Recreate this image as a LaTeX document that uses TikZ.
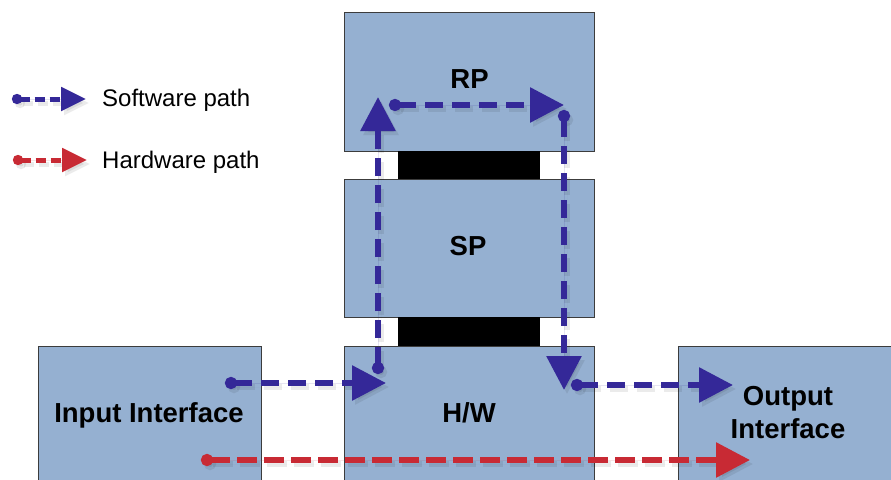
\documentclass[tikz,border=0pt]{standalone}
\usepackage{fontspec}
\setmainfont{Liberation Sans}
\usetikzlibrary{arrows.meta}
\definecolor{boxfill}{RGB}{149,176,209}
\definecolor{boxline}{RGB}{60,60,60}
\definecolor{swblue}{RGB}{52,40,152}
\definecolor{hwred}{RGB}{200,42,52}
\tikzset{
  blk/.style={draw=boxline, line width=1.3pt, fill=boxfill, anchor=north west, inner sep=0pt},
  bar/.style={fill=black, anchor=north west, inner sep=0pt, draw=none},
  lbl/.style={anchor=base, inner sep=0pt, font=\fontsize{27.5}{33}\selectfont\bfseries},
  leg/.style={anchor=base west, inner sep=0pt, font=\fontsize{24}{28}\selectfont},
  pathbig/.style={line width=6pt, dash pattern=on 18pt off 9pt,
    arrows={Circle[length=12pt]-Triangle[length=34pt,width=34pt]}},
  pathred/.style={pathbig, dash pattern=on 20pt off 7pt},
  pathsmall/.style={line width=5pt, dash pattern=on 10pt off 5pt,
    arrows={Circle[length=10pt]-Triangle[length=25pt,width=23pt]}},
  shade/.style={draw=black, fill=black, opacity=0.08},
}
\begin{document}
\begin{tikzpicture}[x=1pt,y=-1pt]
\useasboundingbox (0,0) rectangle (891,479);
\clip (0,0) rectangle (891,479);
% boxes
\node[blk, minimum width=250pt, minimum height=139pt] (rp) at (344,12) {};
\node[blk, minimum width=250pt, minimum height=138pt] (sp) at (344,179) {};
\node[blk, minimum width=250pt, minimum height=160pt] (hw) at (344,346) {};
\node[blk, minimum width=223pt, minimum height=160pt] (in) at (38,346) {};
\node[blk, minimum width=230pt, minimum height=160pt] (out) at (678,346) {};
\node[bar, minimum width=142pt, minimum height=28pt] (bar1) at (398,151) {};
\node[bar, minimum width=142pt, minimum height=29pt] (bar2) at (398,317) {};
% labels
\node[lbl] (rpL) at (469.5,88) {RP};
\node[lbl] (spL) at (468,255) {SP};
\node[lbl] (hwL) at (469,422) {H/W};
\node[lbl] (inL) at (149,422) {Input Interface};
\node[lbl] (outL1) at (788,405) {Output};
\node[lbl] (outL2) at (788,438) {Interface};
% legend
\node[leg] (legSW) at (102,106) {Software path};
\node[leg] (legHW) at (102,168) {Hardware path};
% coordinates
\coordinate (l1s) at (12,99);   \coordinate (l1e) at (86,99);
\coordinate (l2s) at (13,160);  \coordinate (l2e) at (87,160);
\coordinate (a1s) at (225,383); \coordinate (a1e) at (386,383);
\coordinate (a2s) at (378,374); \coordinate (a2e) at (378,97);
\coordinate (a3s) at (389,105); \coordinate (a3e) at (564,105);
\coordinate (a4s) at (564,110); \coordinate (a4e) at (564,390);
\coordinate (a5s) at (571,385); \coordinate (a5e) at (733,385);
\coordinate (h1s) at (201,460); \coordinate (h1e) at (750,460);
% shadows
\begin{scope}[transform canvas={shift={(3pt,-4pt)}}]
\draw[pathsmall, shade] (l1s) -- (l1e);
\draw[pathsmall, shade] (l2s) -- (l2e);
\foreach \s/\e in {a1s/a1e,a2s/a2e,a3s/a3e,a4s/a4e,a5s/a5e}
  \draw[pathbig, shade] (\s) -- (\e);
\draw[pathred, shade] (h1s) -- (h1e);
\end{scope}
% arrows
\draw[pathsmall, draw=swblue, fill=swblue] (l1s) -- (l1e);
\draw[pathsmall, draw=hwred, fill=hwred] (l2s) -- (l2e);
\draw[pathbig, draw=swblue, fill=swblue] (a1s) -- (a1e);
\draw[pathbig, draw=swblue, fill=swblue] (a2s) -- (a2e);
\draw[pathbig, draw=swblue, fill=swblue] (a3s) -- (a3e);
\draw[pathbig, draw=swblue, fill=swblue] (a4s) -- (a4e);
\draw[pathbig, draw=swblue, fill=swblue] (a5s) -- (a5e);
\draw[pathred, draw=hwred, fill=hwred] (h1s) -- (h1e);
\end{tikzpicture}
\end{document}
